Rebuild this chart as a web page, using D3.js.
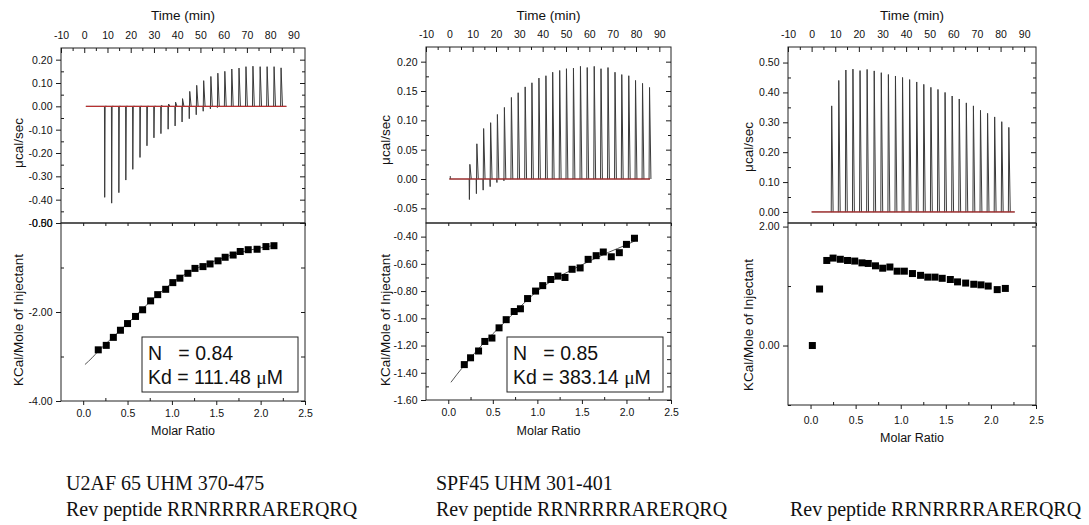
<!DOCTYPE html>
<html><head><meta charset="utf-8">
<script src="https://cdn.jsdelivr.net/npm/d3@7"></script>
<style>
body{margin:0;background:#fff;}
svg{display:block;background:#fff;}
text{font-family:"Liberation Sans",Arial,sans-serif;fill:#111;}
.cap{font-family:"Liberation Serif","Times New Roman",serif;fill:#111;}
</style></head><body>
<svg id="c" width="1089" height="525"></svg>
<script>
// ---------- shared tick values ----------
const timeMajor = [-10,0,10,20,30,40,50,60,70,80,90];
const timeMinor = [-5,5,15,25,35,45,55,65,75,85];
const ratioMajor = [0,0.5,1.0,1.5,2.0,2.5];
const ratioMinor = [0.25,0.75,1.25,1.75,2.25];

// ---------- Panel 1 : U2AF65 UHM ----------
const p1Inj = [8.7,11.7,14.8,17.8,20.8,23.9,26.9,29.9,32.9,36.0,39.0,42.0,45.1,48.1,51.1,54.2,57.2,60.2,63.2,66.3,69.3,72.3,75.4,78.4,81.4,84.4];
const p1Pos = [0,0,0,0,0,0,0,0,0.004,0.01,0.018,0.033,0.064,0.09,0.11,0.128,0.142,0.15,0.16,0.164,0.17,0.172,0.17,0.17,0.17,0.165];
const p1Neg = [-0.39,-0.415,-0.37,-0.316,-0.27,-0.219,-0.169,-0.135,-0.117,-0.098,-0.084,-0.067,-0.053,-0.036,-0.021,-0.011,-0.005,0,0,0,0,0,0,0,0,0];
const p1Ratio = [0.17,0.26,0.34,0.42,0.50,0.59,0.67,0.76,0.84,0.93,1.01,1.09,1.18,1.26,1.35,1.43,1.52,1.60,1.69,1.77,1.86,1.96,2.06,2.15];
const p1Heat = [-2.85,-2.75,-2.57,-2.41,-2.26,-2.10,-1.95,-1.75,-1.61,-1.49,-1.34,-1.24,-1.13,-1.02,-0.98,-0.92,-0.85,-0.77,-0.72,-0.64,-0.60,-0.59,-0.53,-0.51];
const p1FitRatio = [0.02,0.1,0.17,0.3,0.5,0.7,0.9,1.1,1.3,1.5,1.7,1.9,2.16];
const p1FitHeat = [-3.18,-3.03,-2.88,-2.63,-2.26,-1.87,-1.51,-1.21,-1.0,-0.84,-0.70,-0.60,-0.50];
const p1TopMajor = [-0.5,-0.4,-0.3,-0.2,-0.1,0,0.1,0.2];
const p1TopMinor = [-0.45,-0.35,-0.25,-0.15,-0.05,0.05,0.15];
const p1BotMajor = [-4,-2,0];
const p1BotMinor = [-3,-1];
const p1Legend = ["N   = 0.84", "Kd = 111.48 "];

// ---------- Panel 2 : SPF45 UHM ----------
const p2Inj = [8.5,11.5,14.4,17.4,20.3,23.3,26.3,29.2,32.2,35.1,38.1,41.1,44.0,47.0,49.9,52.9,55.9,58.8,61.8,64.7,67.7,70.7,73.6,76.6,79.5,82.5,85.5];
const p2Pos = [0.025,0.06,0.086,0.096,0.11,0.122,0.139,0.147,0.157,0.164,0.172,0.176,0.182,0.185,0.188,0.189,0.192,0.19,0.192,0.188,0.19,0.182,0.178,0.176,0.168,0.163,0.156];
const p2Neg = [-0.035,-0.025,-0.019,-0.013,-0.006,-0.003,0,0,0,0,0,0,0,0,0,0,0,0,0,0,0,0,0,0,0,0,0];
const p2Ratio = [0.18,0.25,0.34,0.41,0.49,0.57,0.65,0.74,0.81,0.89,0.98,1.06,1.15,1.23,1.31,1.39,1.48,1.57,1.66,1.74,1.83,1.92,2.0,2.09];
const p2Heat = [-1.34,-1.29,-1.24,-1.17,-1.145,-1.07,-1.01,-0.95,-0.93,-0.855,-0.80,-0.76,-0.715,-0.69,-0.70,-0.64,-0.63,-0.567,-0.54,-0.513,-0.548,-0.518,-0.457,-0.412];
const p2FitRatio = [0.03,0.1,0.2,0.4,0.6,0.8,1.0,1.2,1.4,1.6,1.8,2.0,2.1];
const p2FitHeat = [-1.47,-1.41,-1.33,-1.18,-1.05,-0.92,-0.80,-0.71,-0.64,-0.575,-0.515,-0.46,-0.43];
const p2TopMajor = [-0.05,0,0.05,0.10,0.15,0.20];
const p2TopMinor = [-0.025,0.025,0.075,0.125,0.175];
const p2BotMajor = [-1.6,-1.4,-1.2,-1.0,-0.8,-0.6,-0.4];
const p2BotMinor = [-1.5,-1.3,-1.1,-0.9,-0.7,-0.5];
const p2Legend = ["N   = 0.85", "Kd = 383.14 "];

// ---------- Panel 3 : Rev peptide only ----------
const p3Inj = [8.2,11.2,14.2,17.2,20.2,23.2,26.2,29.2,32.2,35.2,38.2,41.2,44.2,47.2,50.2,53.2,56.2,59.2,62.2,65.2,68.2,71.2,74.2,77.2,80.2,83.2];
const p3Pos = [0.355,0.44,0.475,0.478,0.473,0.477,0.472,0.466,0.46,0.455,0.45,0.443,0.435,0.427,0.417,0.41,0.40,0.388,0.378,0.365,0.355,0.34,0.33,0.318,0.302,0.283];
const p3Neg = [0,0,0,0,0,0,0,0,0,0,0,0,0,0,0,0,0,0,0,0,0,0,0,0,0,0];
const p3Ratio = [0.02,0.10,0.18,0.25,0.33,0.41,0.49,0.57,0.64,0.72,0.80,0.88,0.96,1.04,1.13,1.22,1.30,1.38,1.46,1.55,1.63,1.72,1.81,1.89,1.97,2.07,2.16];
const p3Heat = [0.00,0.95,1.43,1.47,1.45,1.43,1.42,1.39,1.38,1.34,1.30,1.32,1.25,1.25,1.21,1.18,1.15,1.15,1.13,1.11,1.07,1.05,1.03,1.02,1.00,0.94,0.96];
const p3TopMajor = [0,0.1,0.2,0.3,0.4,0.5];
const p3TopMinor = [0.05,0.15,0.25,0.35,0.45];
const p3BotMajor = [0,2];
const p3BotMinor = [-1,1];

const captions = [
  ["U2AF 65 UHM 370-475", "Rev peptide RRNRRRRARERQRQ"],
  ["SPF45 UHM 301-401", "Rev peptide RRNRRRRARERQRQ"],
  ["", "Rev peptide RRNRRRRARERQRQ"]
];

// ---------- drawing ----------
const svg = d3.select("#c");
const fmt2 = v => (Math.abs(v) < 1e-9 ? 0 : v).toFixed(2);
const fmt1 = v => v.toFixed(1);
const FONT = '"Liberation Sans",Arial,sans-serif';

function styleAxis(g){
  g.attr("font-size", 10.5).attr("font-family", FONT).attr("color", "#1a1a1a");
  g.select(".domain").remove();
  g.selectAll("text").attr("fill", "#111");
}

function panel(c){
  const g = svg.append("g");
  const x = d3.scaleLinear().domain([-10, 95]).range([c.left, c.right]);
  const yT = d3.scaleLinear().domain(c.topDomain).range([c.mid, c.top]);
  const r = d3.scaleLinear().domain([-0.25, 2.5]).range([c.left, c.right]);
  const yB = d3.scaleLinear().domain(c.botDomain).range([c.bottom, c.mid]);

  // ---- raw thermogram ----
  g.append("line").attr("x1", x(c.baseStart)).attr("x2", x(c.baseEnd))
    .attr("y1", yT(0)).attr("y2", yT(0)).attr("stroke", "#333").attr("stroke-width", 1);
  c.inj.forEach((t, i) => {
    const p = d3.path();
    p.moveTo(x(t), yT(0));
    p.lineTo(x(t + 0.1), yT(c.neg[i]));
    p.lineTo(x(t + 0.3), yT(c.pos[i]));
    p.lineTo(x(t + 0.9), yT(0));
    g.append("path").attr("d", p.toString()).attr("fill", "none")
      .attr("stroke", "#3a3a3a").attr("stroke-width", 1);
  });
  if (c.preSpike) {
    const p = d3.path();
    p.moveTo(x(c.preSpike[0]), yT(0)); p.lineTo(x(c.preSpike[0]), yT(c.preSpike[1]));
    g.append("path").attr("d", p.toString()).attr("stroke", "#3a3a3a").attr("stroke-width", 1);
  }
  g.append("line").attr("x1", x(c.baseStart)).attr("x2", x(c.baseEnd))
    .attr("y1", yT(0)).attr("y2", yT(0)).attr("stroke", "#cc2a2a").attr("stroke-width", 1);

  // ---- integrated heats ----
  if (c.fitX) {
    const line = d3.line().curve(d3.curveMonotoneX).x(d => r(d[0])).y(d => yB(d[1]));
    g.append("path").attr("d", line(c.fitX.map((v, i) => [v, c.fitY[i]])))
      .attr("fill", "none").attr("stroke", "#555").attr("stroke-width", 1);
  }
  g.selectAll(null).data(c.ratio).enter().append("rect")
    .attr("x", (d) => r(d) - 3.5).attr("y", (d, i) => yB(c.heat[i]) - 3.5)
    .attr("width", 7).attr("height", 7).attr("fill", "#000");

  // ---- frames ----
  g.append("rect").attr("x", c.left).attr("y", c.top).attr("width", c.right - c.left)
    .attr("height", c.mid - c.top).attr("fill", "none").attr("stroke", "#222").attr("stroke-width", 1);
  g.append("rect").attr("x", c.left).attr("y", c.mid).attr("width", c.right - c.left)
    .attr("height", c.bottom - c.mid).attr("fill", "none").attr("stroke", "#222").attr("stroke-width", 1);

  // ---- top (time) axis ----
  g.append("g").attr("transform", `translate(0,${c.top})`)
    .call(d3.axisTop(x).tickValues(timeMajor).tickSize(-5).tickSizeOuter(0).tickPadding(9).tickFormat(d => String(d))).call(styleAxis);
  g.append("g").attr("transform", `translate(0,${c.top})`)
    .call(d3.axisTop(x).tickValues(timeMinor).tickSize(-3).tickSizeOuter(0).tickFormat("")).call(styleAxis);

  // ---- top panel y axes ----
  g.append("g").attr("transform", `translate(${c.left},0)`)
    .call(d3.axisLeft(yT).tickValues(c.topMajor).tickSize(5).tickSizeOuter(0).tickPadding(3.5).tickFormat(fmt2)).call(styleAxis);
  g.append("g").attr("transform", `translate(${c.left},0)`)
    .call(d3.axisLeft(yT).tickValues(c.topMinor).tickSize(-3).tickSizeOuter(0).tickFormat("")).call(styleAxis);
  g.append("g").attr("transform", `translate(${c.right},0)`)
    .call(d3.axisRight(yT).tickValues(c.topMajor).tickSize(-5).tickSizeOuter(0).tickFormat("")).call(styleAxis);
  g.append("g").attr("transform", `translate(${c.right},0)`)
    .call(d3.axisRight(yT).tickValues(c.topMinor).tickSize(-3).tickSizeOuter(0).tickFormat("")).call(styleAxis);

  // ---- bottom panel y axes ----
  g.append("g").attr("transform", `translate(${c.left},0)`)
    .call(d3.axisLeft(yB).tickValues(c.botMajor).tickSize(5).tickSizeOuter(0).tickPadding(3.5).tickFormat(fmt2)).call(styleAxis);
  g.append("g").attr("transform", `translate(${c.left},0)`)
    .call(d3.axisLeft(yB).tickValues(c.botMinor).tickSize(-3).tickSizeOuter(0).tickFormat("")).call(styleAxis);
  g.append("g").attr("transform", `translate(${c.right},0)`)
    .call(d3.axisRight(yB).tickValues(c.botMajor.concat(c.botMinor)).tickSize(-4).tickSizeOuter(0).tickFormat("")).call(styleAxis);

  // ---- ratio axes ----
  g.append("g").attr("transform", `translate(0,${c.bottom})`)
    .call(d3.axisBottom(r).tickValues(ratioMajor).tickSize(4).tickSizeOuter(0).tickPadding(c.ratioPad).tickFormat(fmt1)).call(styleAxis);
  g.append("g").attr("transform", `translate(0,${c.bottom})`)
    .call(d3.axisBottom(r).tickValues(ratioMinor).tickSize(-3).tickSizeOuter(0).tickFormat("")).call(styleAxis);
  g.append("g").attr("transform", `translate(0,${c.mid})`)
    .call(d3.axisTop(r).tickValues(ratioMajor.concat(ratioMinor)).tickSize(-3).tickSizeOuter(0).tickFormat("")).call(styleAxis);

  // ---- axis titles ----
  const cx = (c.left + c.right) / 2;
  g.append("text").attr("x", cx).attr("y", 15).attr("text-anchor", "middle")
    .attr("dominant-baseline", "central").attr("font-size", 13.5).text("Time (min)");
  g.append("text").attr("transform", `translate(${c.yTitleX},${c.yTopTitleY}) rotate(-90)`)
    .attr("text-anchor", "middle").attr("dominant-baseline", "central").attr("font-size", 13.5).text("μcal/sec");
  g.append("text").attr("transform", `translate(${c.yTitleX},${c.yBotTitleY}) rotate(-90)`)
    .attr("text-anchor", "middle").attr("dominant-baseline", "central").attr("font-size", 13.5).text("KCal/Mole of Injectant");
  g.append("text").attr("x", cx).attr("y", c.xTitleY).attr("text-anchor", "middle")
    .attr("dominant-baseline", "central").attr("font-size", 12.5).text("Molar Ratio");

  // ---- fit result box ----
  if (c.legend) {
    const bx = c.left + 81, by = 337, bw = 156, bh = 55;
    g.append("rect").attr("x", bx).attr("y", by).attr("width", bw).attr("height", bh)
      .attr("fill", "#fff").attr("stroke", "#222").attr("stroke-width", 1);
    g.append("text").attr("x", bx + 6).attr("y", by + 16).attr("dominant-baseline", "central")
      .attr("font-size", 19.5).style("white-space", "pre").text(c.legend[0]);
    const t2 = g.append("text").attr("x", bx + 6).attr("y", by + 40).attr("dominant-baseline", "central")
      .attr("font-size", 19.5).style("white-space", "pre");
    t2.append("tspan").text(c.legend[1]);
    t2.append("tspan").attr("font-family", '"Liberation Serif",serif').text("μ");
    t2.append("tspan").text("M");
  }

  // ---- captions ----
  c.caption.forEach((s, i) => {
    if (!s) return;
    g.append("text").attr("class", "cap").attr("x", c.capX).attr("y", 490 + i * 26)
      .attr("font-size", 20).text(s);
  });
}

panel({left:61, right:305, top:48, mid:223, bottom:401,
  topDomain:[-0.5,0.25], botDomain:[-4,0],
  topMajor:p1TopMajor, topMinor:p1TopMinor, botMajor:p1BotMajor, botMinor:p1BotMinor,
  inj:p1Inj, pos:p1Pos, neg:p1Neg, baseStart:0.7, baseEnd:87,
  ratio:p1Ratio, heat:p1Heat, fitX:p1FitRatio, fitY:p1FitHeat,
  legend:p1Legend, ratioPad:4.5, xTitleY:431,
  yTitleX:18, yTopTitleY:143, yBotTitleY:320, capX:66, caption:captions[0]});

panel({left:426, right:671, top:47, mid:223, bottom:400,
  topDomain:[-0.075,0.225], botDomain:[-1.6,-0.3],
  topMajor:p2TopMajor, topMinor:p2TopMinor, botMajor:p2BotMajor, botMinor:p2BotMinor,
  inj:p2Inj, pos:p2Pos, neg:p2Neg, baseStart:0, baseEnd:86, preSpike:[0.4,0.005],
  ratio:p2Ratio, heat:p2Heat, fitX:p2FitRatio, fitY:p2FitHeat,
  legend:p2Legend, ratioPad:4.5, xTitleY:431,
  yTitleX:385, yTopTitleY:140, yBotTitleY:320, capX:436, caption:captions[1]});

panel({left:788, right:1036, top:47, mid:223, bottom:405,
  topDomain:[-0.037,0.552], botDomain:[-1.0,2.06],
  topMajor:p3TopMajor, topMinor:p3TopMinor, botMajor:p3BotMajor, botMinor:p3BotMinor,
  inj:p3Inj, pos:p3Pos, neg:p3Neg, baseStart:0, baseEnd:86,
  ratio:p3Ratio, heat:p3Heat, fitX:null, fitY:null,
  legend:null, ratioPad:8, xTitleY:438,
  yTitleX:748, yTopTitleY:147, yBotTitleY:325, capX:790, caption:captions[2]});
</script>
</body></html>
